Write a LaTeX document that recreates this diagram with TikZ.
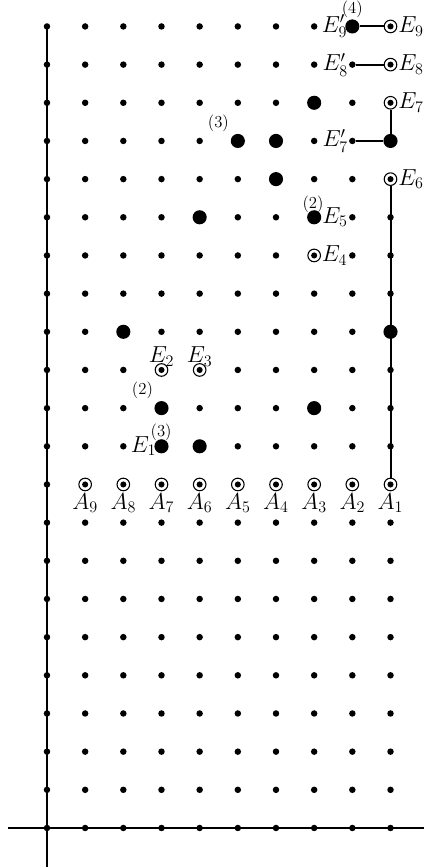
\documentclass[tikz,border=0pt]{standalone}
\usepackage{fontspec}
\begin{document}
\begin{tikzpicture}[x=1cm,y=1cm,
  smalldot/.style={circle,fill=black,inner sep=0pt,minimum size=0.17cm},
  bigdot/.style={circle,fill=black,inner sep=0pt,minimum size=0.37cm},
  ringdot/.style={circle,draw=black,line width=0.8pt,inner sep=0pt,minimum size=0.33cm,
    path picture={\fill[black] (path picture bounding box.center) circle (0.08cm);}},
  lab/.style={inner sep=0.5pt,font=\fontsize{17.28}{20}\selectfont},
  mult/.style={inner sep=0pt,font=\fontsize{12.5}{14}\selectfont},
  conn/.style={line width=1.5pt},
  axis/.style={line width=0.9pt}]
\useasboundingbox (-1.231,-1.022) rectangle (9.877,21.693);
% axes
\coordinate (xl) at (-1.02,0);
\coordinate (xr) at (9.877,0);
\coordinate (yt) at (0,21);
\coordinate (yb) at (0,-1.022);
\draw[axis] (xl) -- (xr);
\draw[axis] (yt) -- (yb);
% special points
\foreach \i/\j in {8/21,7/19,5/18,6/18,9/18,6/17,4/16,7/16,2/13,9/13,3/11,7/11,3/10,4/10}
  \node[bigdot] (p\i-\j) at (\i,\j) {};
\foreach \i/\j in {9/21,9/20,9/19,9/17,7/15,3/12,4/12,1/9,2/9,3/9,4/9,5/9,6/9,7/9,8/9,9/9}
  \node[ringdot] (p\i-\j) at (\i,\j) {};
% grid of small dots
\foreach \i in {0,...,9}
  \foreach \j in {0,...,21}{
    \ifcsname pgf@sh@ns@p\i-\j\endcsname\else
      \node[smalldot] (p\i-\j) at (\i,\j) {};
    \fi
  }
% connectors
\draw[conn] (p8-21) -- (p9-21);
\draw[conn] (p8-20) -- (p9-20);
\draw[conn] (p8-18) -- (p9-18);
\draw[conn] (p9-18) -- (p9-19);
\draw[conn] (p9-9) -- (p9-17);
% A labels
\foreach \k/\i in {9/1,8/2,7/3,6/4,5/5,4/6,3/7,2/8,1/9}
  \node[lab,anchor=north] (a\k) at ([yshift=-0.03cm]p\i-9.south) {$A_{\k}$};
% E labels
\node[lab,anchor=west] (e9) at (p9-21.east) {$E_9$};
\node[lab,anchor=west] (e8) at (p9-20.east) {$E_8$};
\node[lab,anchor=west] (e7) at (p9-19.east) {$E_7$};
\node[lab,anchor=west] (e6) at (p9-17.east) {$E_6$};
\node[lab,anchor=west] (e5) at (p7-16.east) {$E_5$};
\node[lab,anchor=west] (e4) at (p7-15.east) {$E_4$};
\node[lab,anchor=east] (e9p) at ([xshift=0.08cm]p8-21.west) {$E_9'$};
\node[lab,anchor=east] (e8p) at (p8-20.west) {$E_8'$};
\node[lab,anchor=east] (e7p) at (p8-18.west) {$E_7'$};
\node[lab,anchor=south] (e2) at ([yshift=-0.1cm]p3-12.north) {$E_2$};
\node[lab,anchor=south] (e3) at ([yshift=-0.1cm]p4-12.north) {$E_3$};
\node[lab,anchor=east] (e1) at ([xshift=0.08cm]p3-10.west) {$E_1$};
% multiplicities
\node[mult] (m4) at (8.0,21.45) {(4)};
\node[mult] (m3a) at (4.49,18.46) {(3)};
\node[mult] (m2a) at (6.97,16.34) {(2)};
\node[mult] (m2b) at (2.5,11.46) {(2)};
\node[mult] (m3b) at (2.99,10.36) {(3)};
\end{tikzpicture}
\end{document}
